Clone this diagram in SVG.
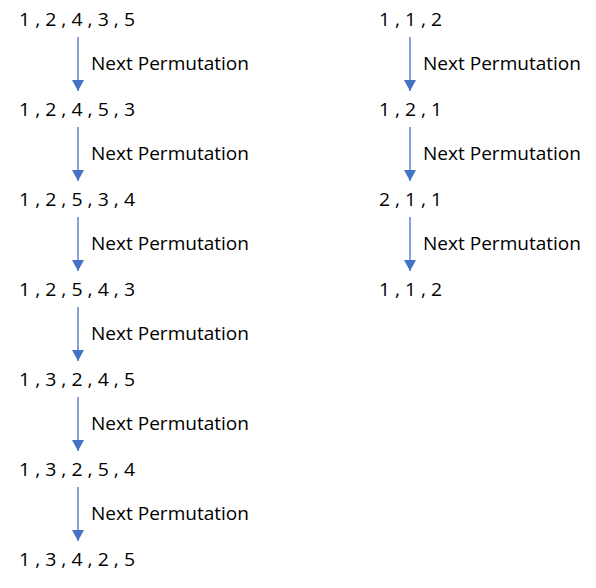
<svg xmlns="http://www.w3.org/2000/svg" width="596" height="588" viewBox="0 0 596 588">
<defs>
<style>
text{font-family:"Open Sans","Noto Sans","Liberation Sans",sans-serif;font-size:19px;fill:#000}
.c{stroke:#4472C4;stroke-width:1.3;fill:none}
</style>
<marker id="ah" viewBox="0 0 11 12" refX="11" refY="6" markerWidth="11" markerHeight="12" markerUnits="userSpaceOnUse" orient="auto">
<path d="M0,0 L11,6 L0,12 Z" fill="#4472C4"/>
</marker>
</defs>
<rect width="596" height="588" fill="#fff"/>
<g id="connectors">
<line class="c" x1="78" y1="37" x2="78" y2="91" marker-end="url(#ah)"/>
<line class="c" x1="78" y1="127" x2="78" y2="181" marker-end="url(#ah)"/>
<line class="c" x1="78" y1="217" x2="78" y2="271" marker-end="url(#ah)"/>
<line class="c" x1="78" y1="307" x2="78" y2="361" marker-end="url(#ah)"/>
<line class="c" x1="78" y1="397" x2="78" y2="451" marker-end="url(#ah)"/>
<line class="c" x1="78" y1="487" x2="78" y2="541" marker-end="url(#ah)"/>
<line class="c" x1="410" y1="37" x2="410" y2="91" marker-end="url(#ah)"/>
<line class="c" x1="410" y1="127" x2="410" y2="181" marker-end="url(#ah)"/>
<line class="c" x1="410" y1="217" x2="410" y2="271" marker-end="url(#ah)"/>
</g>
<g id="labels">
<text x="91" y="70" textLength="158" lengthAdjust="spacingAndGlyphs">Next Permutation</text>
<text x="91" y="160" textLength="158" lengthAdjust="spacingAndGlyphs">Next Permutation</text>
<text x="91" y="250" textLength="158" lengthAdjust="spacingAndGlyphs">Next Permutation</text>
<text x="91" y="340" textLength="158" lengthAdjust="spacingAndGlyphs">Next Permutation</text>
<text x="91" y="430" textLength="158" lengthAdjust="spacingAndGlyphs">Next Permutation</text>
<text x="91" y="520" textLength="158" lengthAdjust="spacingAndGlyphs">Next Permutation</text>
<text x="423" y="70" textLength="158" lengthAdjust="spacingAndGlyphs">Next Permutation</text>
<text x="423" y="160" textLength="158" lengthAdjust="spacingAndGlyphs">Next Permutation</text>
<text x="423" y="250" textLength="158" lengthAdjust="spacingAndGlyphs">Next Permutation</text>
</g>
<g id="n1"><text x="19" y="26" textLength="116" lengthAdjust="spacingAndGlyphs">1 , 2 , 4 , 3 , 5</text></g>
<g id="n2"><text x="19" y="116" textLength="116" lengthAdjust="spacingAndGlyphs">1 , 2 , 4 , 5 , 3</text></g>
<g id="n3"><text x="19" y="206" textLength="116" lengthAdjust="spacingAndGlyphs">1 , 2 , 5 , 3 , 4</text></g>
<g id="n4"><text x="19" y="296" textLength="116" lengthAdjust="spacingAndGlyphs">1 , 2 , 5 , 4 , 3</text></g>
<g id="n5"><text x="19" y="386" textLength="116" lengthAdjust="spacingAndGlyphs">1 , 3 , 2 , 4 , 5</text></g>
<g id="n6"><text x="19" y="476" textLength="116" lengthAdjust="spacingAndGlyphs">1 , 3 , 2 , 5 , 4</text></g>
<g id="n7"><text x="19" y="566" textLength="116" lengthAdjust="spacingAndGlyphs">1 , 3 , 4 , 2 , 5</text></g>
<g id="m1"><text x="379" y="26" textLength="63" lengthAdjust="spacingAndGlyphs">1 , 1 , 2</text></g>
<g id="m2"><text x="379" y="116" textLength="63" lengthAdjust="spacingAndGlyphs">1 , 2 , 1</text></g>
<g id="m3"><text x="379" y="206" textLength="63" lengthAdjust="spacingAndGlyphs">2 , 1 , 1</text></g>
<g id="m4"><text x="379" y="296" textLength="63" lengthAdjust="spacingAndGlyphs">1 , 1 , 2</text></g>
</svg>
